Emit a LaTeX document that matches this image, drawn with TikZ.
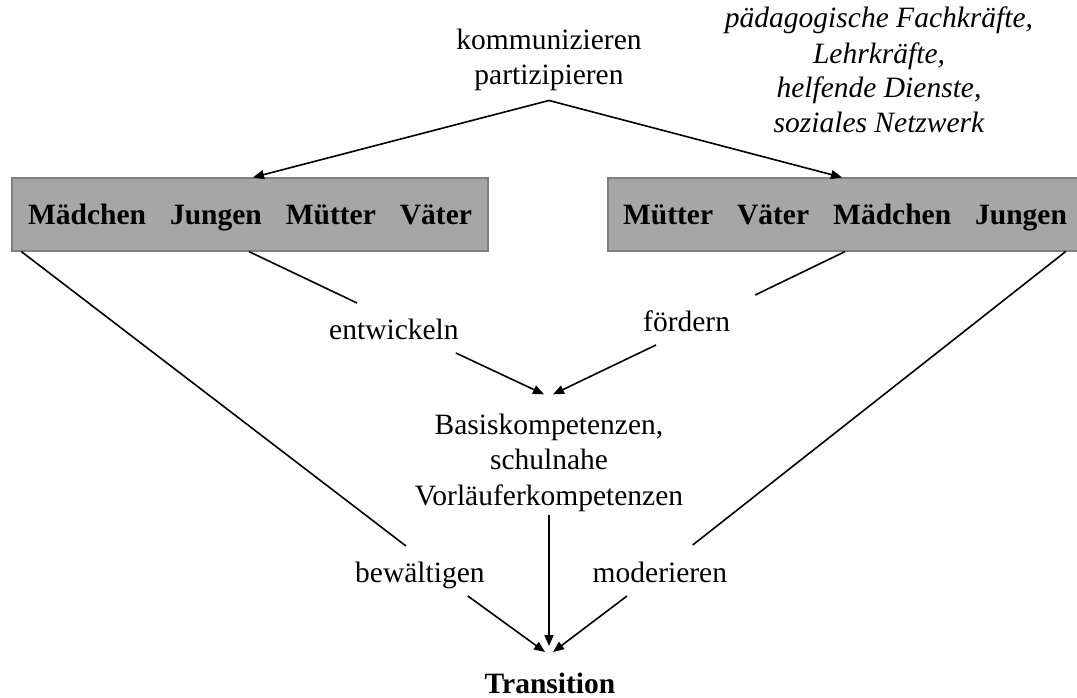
\documentclass[tikz,border=0pt]{standalone}
\usepackage{fontspec}
\setmainfont{Liberation Serif}
\usetikzlibrary{arrows.meta,calc}
\definecolor{boxfill}{HTML}{A6A6A6}
\definecolor{boxline}{HTML}{7F7F7F}
\begin{document}
\begin{tikzpicture}[x=1pt,y=-1pt,
  every node/.style={inner sep=0pt, font=\fontsize{29.5}{35.5}\selectfont},
  role/.style={draw=boxline, fill=boxfill, line width=1.2pt, minimum height=73pt,
    text height=22pt, text depth=2pt, font=\fontsize{29.5}{35.5}\selectfont\bfseries},
  link/.style={line width=1.6pt},
  arr/.style={link, -{Triangle[length=11pt,width=9pt]}},
]
\useasboundingbox (0,0) rectangle (1077,698);

% the two groups of actors
\node[role, minimum width=476pt] (lbox) at (250,214.5)
  {Mädchen\hspace{24pt}Jungen\hspace{24pt}Mütter\hspace{24pt}Väter};
\node[role, minimum width=474pt] (rbox) at (845,214.5)
  {Mütter\hspace{24pt}Väter\hspace{24pt}Mädchen\hspace{24pt}Jungen};

% labels (multi-line nodes are placed by the baseline of their last line)
\node[anchor=base, align=center] (komm) at (549,85) {kommunizieren\\partizipieren};
\node[anchor=base, align=center, font=\fontsize{29.5}{35}\selectfont\itshape] (staff) at (879,133)
  {pädagogische Fachkräfte,\\Lehrkräfte,\\helfende Dienste,\\soziales Netzwerk};
\node[anchor=base west] (ent) at (329,339) {entwickeln};
\node[anchor=base west] (ford) at (643,331) {fördern};
\node[anchor=base, align=center] (basis) at (549,505)
  {Basiskompetenzen,\\schulnahe\\Vorläuferkompetenzen};
\node[anchor=base west] (bew) at (355,582) {bewältigen};
\node[anchor=base west] (mod) at (592.5,582) {moderieren};
\node[anchor=base, font=\fontsize{29.5}{35.5}\selectfont\bfseries] (trans) at (550,693) {Transition};

% communication with both groups
\draw[arr] ($(komm.south)+(0,9)$) -- ($(lbox.north)+(3,0)$);
\draw[arr] ($(komm.south)+(0,9)$) -- ($(rbox.north)+(-3,0)$);

% competences
\draw[link] ($(lbox.south)+(-1,0)$) -- ($(ent.base west)+(28,-36)$);
\draw[arr] ($(ent.base east)+(-3,14)$) -- ($(basis.north)+(-5,-19)$);
\draw[link] (rbox.south) -- ($(ford.base east)+(25,-36)$);
\draw[arr] ($(ford.base west)+(13,14)$) -- ($(basis.north)+(4,-19)$);

% transition
\draw[link] ($(lbox.south west)+(10,0)$) -- ($(bew.base west)+(51,-36)$);
\draw[arr] ($(bew.base east)+(-17,14)$) -- ($(trans.base)+(-5,-41)$);
\draw[link] ($(rbox.south east)+(-17,0)$) -- ($(mod.base east)+(-34.5,-37)$);
\draw[arr] ($(mod.base west)+(34.5,14)$) -- ($(trans.base)+(3,-41)$);
\draw[arr] ($(basis.south)+(0,4)$) -- ($(trans.base)+(-1,-47)$);
\end{tikzpicture}
\end{document}
